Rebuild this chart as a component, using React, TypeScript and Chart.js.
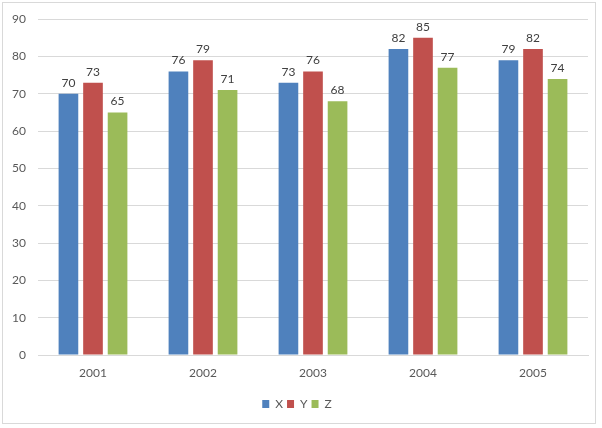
import React, { useEffect, useRef } from "react";
import { Chart, registerables } from "chart.js";

Chart.register(...registerables);

const categories = ["2001", "2002", "2003", "2004", "2005"];
const seriesX = [70, 76, 73, 82, 79];
const seriesY = [73, 79, 76, 85, 82];
const seriesZ = [65, 71, 68, 77, 74];
const yTicks = [0, 10, 20, 30, 40, 50, 60, 70, 80, 90];

const FONT = "Lato, 'Open Sans', sans-serif";

const dataLabels = {
  id: "dataLabels",
  afterDatasetsDraw(chart: any) {
    const ctx = chart.ctx;
    ctx.save();
    ctx.font = `12px ${FONT}`;
    ctx.fillStyle = "#404040";
    ctx.textAlign = "center";
    ctx.textBaseline = "bottom";
    chart.data.datasets.forEach((ds: any, i: number) => {
      const meta = chart.getDatasetMeta(i);
      meta.data.forEach((bar: any, j: number) => {
        ctx.fillText(String(ds.data[j]), bar.x, bar.y - 5);
      });
    });
    ctx.restore();
  },
};

export default function App() {
  const ref = useRef<HTMLCanvasElement | null>(null);
  useEffect(() => {
    document.body.style.margin = "0";
    const chart = new Chart(ref.current as HTMLCanvasElement, {
      type: "bar",
      data: {
        labels: categories,
        datasets: [
          { label: "X", data: seriesX, backgroundColor: "#4F81BD" },
          { label: "Y", data: seriesY, backgroundColor: "#C0504D" },
          { label: "Z", data: seriesZ, backgroundColor: "#9BBB59" },
        ],
      },
      options: {
        animation: false,
        responsive: false,
        devicePixelRatio: 1,
        layout: { padding: { left: 6, right: 14, top: 16, bottom: 8 } },
        datasets: { bar: { barPercentage: 0.8, categoryPercentage: 0.67 } },
        scales: {
          x: {
            grid: { display: false, drawTicks: false },
            border: { display: true, color: "#d9d9d9" },
            ticks: { color: "#595959", font: { family: FONT, size: 12 }, padding: 11 },
            afterFit: (s: any) => { s.height = 39; },
          },
          y: {
            min: 0,
            max: 90,
            afterBuildTicks: (s: any) => { s.ticks = yTicks.map((v) => ({ value: v })); },
            grid: { color: "#d9d9d9", drawTicks: false },
            border: { display: false },
            ticks: { color: "#595959", font: { family: FONT, size: 12 }, padding: 12 },
            afterFit: (s: any) => { s.width = 32; },
          },
        },
        plugins: {
          legend: {
            position: "bottom",
            labels: {
              boxWidth: 7,
              boxHeight: 8,
              color: "#595959",
              font: { family: FONT, size: 12 },
              padding: 4,
            },
          },
          tooltip: { enabled: false },
        },
      },
      plugins: [dataLabels],
    } as any);
    return () => chart.destroy();
  }, []);
  return (
    <div style={{ position: "relative", width: 602, height: 428, background: "#fff" }}>
      <canvas ref={ref} width={602} height={428} style={{ position: "absolute", left: 0, top: 0 }} />
      <div
        style={{
          position: "absolute",
          left: 2,
          top: 2,
          width: 594,
          height: 422,
          boxSizing: "border-box",
          border: "1px solid #d9d9d9",
          pointerEvents: "none",
        }}
      />
    </div>
  );
}
